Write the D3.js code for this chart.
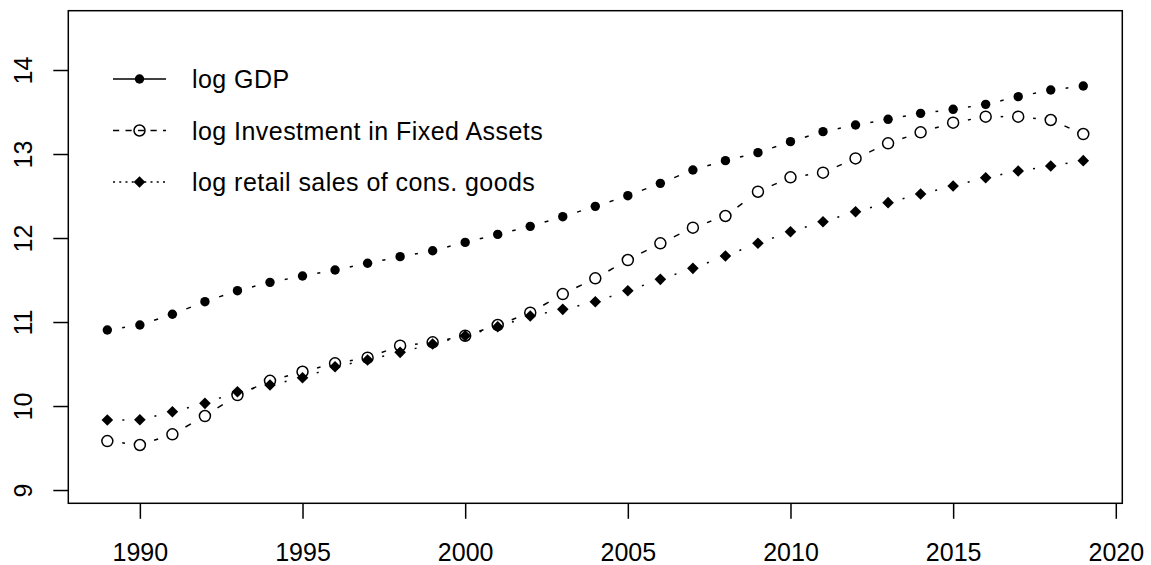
<!DOCTYPE html>
<html>
<head>
<meta charset="utf-8">
<script src="https://cdn.jsdelivr.net/npm/d3@7"></script>
<style>
  html, body { margin: 0; padding: 0; background: #fff; }
  svg { display: block; font-family: "Liberation Sans", Arial, Helvetica, sans-serif; }
</style>
</head>
<body>
<svg id="chart" width="1151" height="565"></svg>
<script>
// Years of observation
const years = [1989, 1990, 1991, 1992, 1993, 1994, 1995, 1996, 1997, 1998,
               1999, 2000, 2001, 2002, 2003, 2004, 2005, 2006, 2007, 2008,
               2009, 2010, 2011, 2012, 2013, 2014, 2015, 2016, 2017, 2018, 2019];

// log GDP
const logGDP = [10.905, 10.964, 11.092, 11.242, 11.373, 11.472, 11.548, 11.619, 11.699, 11.778,
                11.849, 11.948, 12.043, 12.139, 12.254, 12.377, 12.504, 12.651, 12.810, 12.921,
                13.016, 13.147, 13.266, 13.345, 13.413, 13.484, 13.532, 13.591, 13.683, 13.762, 13.810];

// log Investment in Fixed Assets
const logInvestment = [9.583, 9.536, 9.663, 9.881, 10.131, 10.300, 10.408, 10.508, 10.575, 10.718,
                       10.758, 10.837, 10.964, 11.111, 11.333, 11.520, 11.738, 11.937, 12.123, 12.262,
                       12.551, 12.722, 12.778, 12.948, 13.127, 13.258, 13.373, 13.445, 13.445, 13.405, 13.238];

// log retail sales of consumer goods
const logRetail = [9.833, 9.836, 9.932, 10.032, 10.170, 10.250, 10.337, 10.468, 10.548, 10.639,
                   10.738, 10.837, 10.944, 11.071, 11.151, 11.242, 11.373, 11.508, 11.639, 11.786,
                   11.937, 12.075, 12.194, 12.313, 12.421, 12.524, 12.619, 12.718, 12.798, 12.857, 12.921];

const xTicks = [1990, 1995, 2000, 2005, 2010, 2015, 2020];
const yTicks = [9, 10, 11, 12, 13, 14];

const legendLabels = ["log GDP", "log Investment in Fixed Assets", "log retail sales of cons. goods"];

const svg = d3.select("#chart");
const plot = { left: 68.3, right: 1122.3, top: 10.7, bottom: 503.3 };

const x = d3.scaleLinear().domain([1987.8, 2020.2]).range([plot.left, plot.right]);
const y = d3.scaleLinear().domain([8.842, 14.706]).range([plot.bottom, plot.top]);

const LW = 1.5;
const FS = 25;
const GAP = 15; // gap left around each point by the connecting segments

const series = [
  { values: logGDP,        dash: null,        marker: "dot" },
  { values: logInvestment, dash: "6.2,6.3",   marker: "ring" },
  { values: logRetail,     dash: "2,4.25",    marker: "diamond" }
];

function drawMarker(g, kind, cx, cy) {
  if (kind === "dot") {
    g.append("circle").attr("cx", cx).attr("cy", cy).attr("r", 4.7).attr("fill", "#000");
  } else if (kind === "ring") {
    g.append("circle").attr("cx", cx).attr("cy", cy).attr("r", 5.5)
      .attr("fill", "none").attr("stroke", "#000").attr("stroke-width", LW);
  } else {
    const h = 5.8;
    g.append("path")
      .attr("d", `M${cx},${cy - h}L${cx + h},${cy}L${cx},${cy + h}L${cx - h},${cy}Z`)
      .attr("fill", "#000");
  }
}

// Series: segments with gaps around points, then markers
series.forEach(s => {
  const g = svg.append("g");
  const pts = years.map((yr, i) => [x(yr), y(s.values[i])]);
  for (let i = 0; i < pts.length - 1; i++) {
    const [x0, y0] = pts[i], [x1, y1] = pts[i + 1];
    const L = Math.hypot(x1 - x0, y1 - y0);
    if (L <= 2 * GAP) continue;
    const ux = (x1 - x0) / L, uy = (y1 - y0) / L;
    const seg = g.append("line")
      .attr("x1", x0 + ux * GAP).attr("y1", y0 + uy * GAP)
      .attr("x2", x1 - ux * GAP).attr("y2", y1 - uy * GAP)
      .attr("stroke", "#000").attr("stroke-width", LW);
    if (s.dash) seg.attr("stroke-dasharray", s.dash);
  }
  pts.forEach(([px, py]) => drawMarker(g, s.marker, px, py));
});

// Axes
const yAxis = svg.append("g")
  .attr("transform", `translate(${plot.left},0)`)
  .call(d3.axisLeft(y).tickValues(yTicks).tickSize(15).tickSizeOuter(0).tickFormat(d3.format("d")));
yAxis.select(".domain").remove();
yAxis.selectAll(".tick line").attr("stroke", "#000").attr("stroke-width", LW);
yAxis.selectAll(".tick text")
  .attr("x", null).attr("dy", null)
  .attr("transform", `translate(${32 - plot.left},0) rotate(-90)`)
  .attr("text-anchor", "middle")
  .attr("fill", "#000")
  .style("font-size", FS + "px")
  .style("font-family", "Liberation Sans, Arial, Helvetica, sans-serif");

const xAxis = svg.append("g")
  .attr("transform", `translate(0,${plot.bottom})`)
  .call(d3.axisBottom(x).tickValues(xTicks).tickSize(15.5).tickSizeOuter(0).tickFormat(d3.format("d")));
xAxis.select(".domain").remove();
xAxis.selectAll(".tick line").attr("stroke", "#000").attr("stroke-width", LW);
xAxis.selectAll(".tick text")
  .attr("y", 561 - plot.bottom).attr("dy", null)
  .attr("fill", "#000")
  .style("font-size", FS + "px")
  .style("font-family", "Liberation Sans, Arial, Helvetica, sans-serif");

// Plot frame
svg.append("rect")
  .attr("x", plot.left).attr("y", plot.top)
  .attr("width", plot.right - plot.left).attr("height", plot.bottom - plot.top)
  .attr("fill", "none").attr("stroke", "#000").attr("stroke-width", LW);

// Legend
const legend = svg.append("g");
const rowY = [79, 130.5, 182];
series.forEach((s, i) => {
  const ly = rowY[i];
  const ln = legend.append("line")
    .attr("x1", 113).attr("x2", 166).attr("y1", ly).attr("y2", ly)
    .attr("stroke", "#000").attr("stroke-width", LW);
  if (s.dash) ln.attr("stroke-dasharray", s.dash);
  drawMarker(legend, s.marker, 139.5, ly);
  legend.append("text")
    .attr("x", 192).attr("y", ly + 9)
    .attr("fill", "#000")
    .style("font-size", FS + "px")
    .style("letter-spacing", "0.45px")
    .text(legendLabels[i]);
});
</script>
</body>
</html>
